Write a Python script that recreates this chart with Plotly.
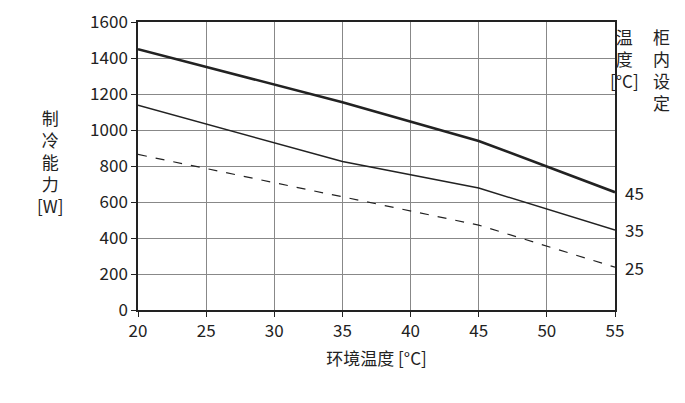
import plotly.graph_objects as go

x = [20, 35, 45, 55]
y45 = [1450, 1155, 940, 655]
y35 = [1138, 825, 678, 445]
x25 = [20, 45, 55]
y25 = [865, 472, 238]
set_labels = ["45", "35", "25"]

font = dict(family="Noto Sans CJK SC", size=17, color="#222")

fig = go.Figure()
fig.add_trace(go.Scatter(x=x, y=y45, mode="lines", line=dict(color="#222", width=2.6)))
fig.add_trace(go.Scatter(x=x, y=y35, mode="lines", line=dict(color="#222", width=1.5)))
fig.add_trace(go.Scatter(x=x25, y=y25, mode="lines", line=dict(color="#222", width=1.2, dash="dash")))

for lab, yv in zip(set_labels, [y45[-1], y35[-1], y25[-1]]):
    fig.add_annotation(x=1, xref="paper", y=yv, yref="y", text=lab, showarrow=False,
                       xanchor="left", xshift=8, font=font)

fig.add_annotation(x=-0.215, xref="paper", y=0.72, yref="paper", text="制<br>冷<br>能<br>力<br>[W]",
                   showarrow=False, font=font, align="center")
fig.add_annotation(x=1.055, xref="paper", y=1.0, yref="paper", yanchor="top", text="温<br>度<br>[°C]",
                   showarrow=False, font=font, align="center")
fig.add_annotation(x=1.12, xref="paper", y=1.0, yref="paper", yanchor="top", text="柜<br>内<br>设<br>定",
                   showarrow=False, font=font, align="center")

fig.update_layout(
    width=685, height=403, showlegend=False,
    margin=dict(l=130, r=78, t=14, b=101, autoexpand=False),
    plot_bgcolor="white", paper_bgcolor="white", font=font,
    xaxis=dict(range=[20, 55], dtick=5, showgrid=True, gridcolor="#888", gridwidth=1,
               showline=True, linecolor="#222", linewidth=1.5, mirror=True,
               ticks="outside", ticklen=5, tickcolor="#222",
               title=dict(text="环境温度 [°C]", font=font, standoff=12)),
    yaxis=dict(range=[0, 1601], dtick=200, showgrid=True, gridcolor="#888", gridwidth=1,
               showline=True, linecolor="#222", linewidth=1.5, mirror=True, zeroline=False,
               ticks="outside", ticklen=5, tickcolor="#222"),
)
fig.write_html("out.html")
